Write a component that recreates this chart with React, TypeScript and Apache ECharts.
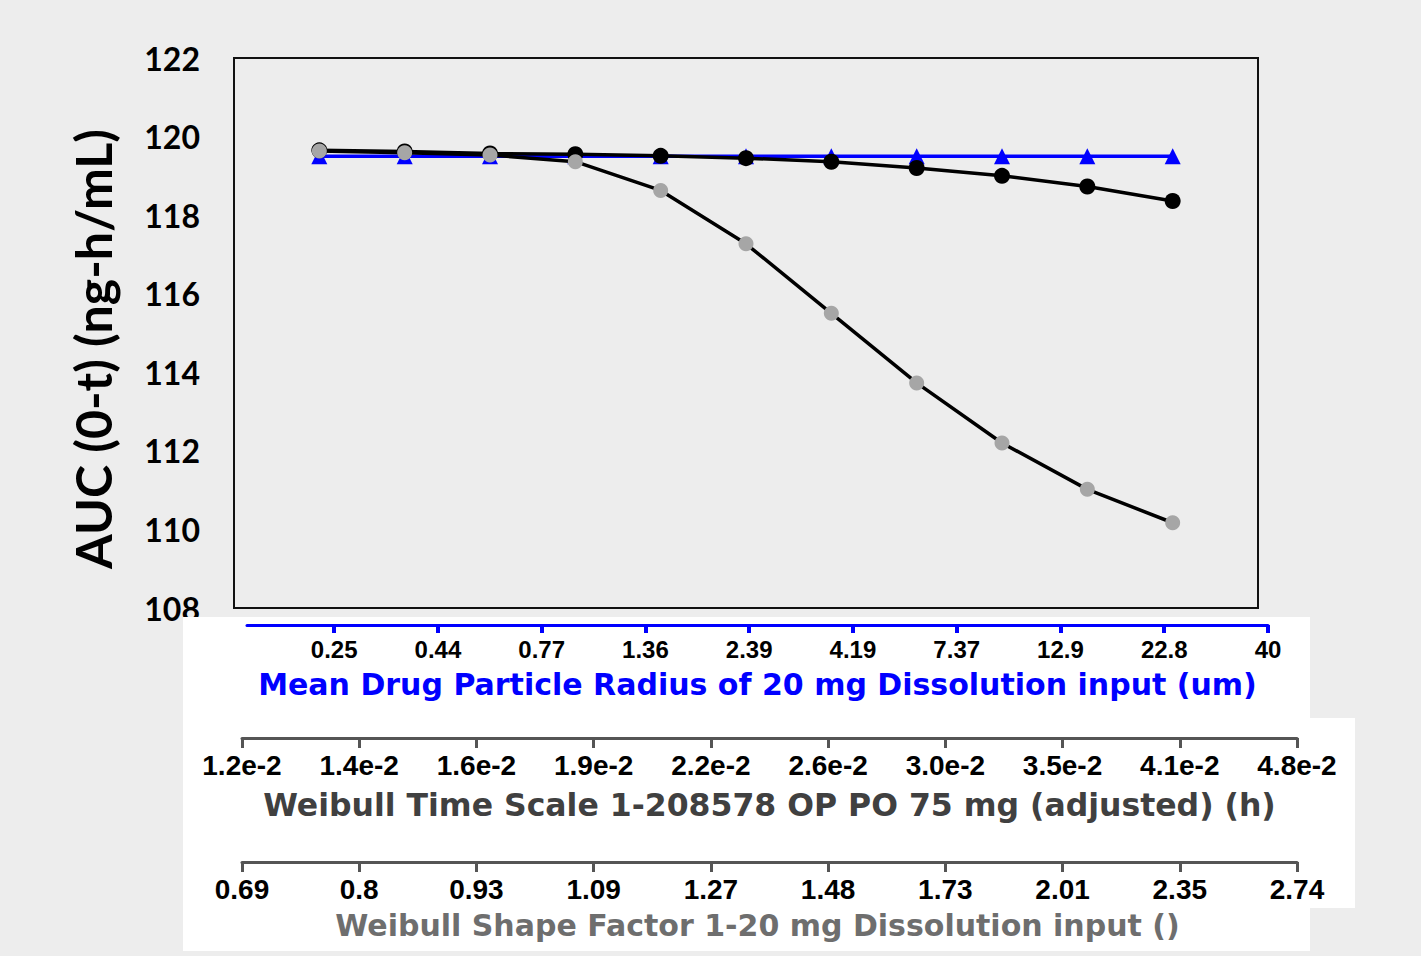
import React, { useEffect, useRef } from "react";
import * as echarts from "echarts";

// ---- data ----
const sampleIndex = [0, 1, 2, 3, 4, 5, 6, 7, 8, 9, 10];
const particleRadiusAUC = [119.5, 119.5, 119.5, 119.5, 119.5, 119.5, 119.5, 119.5, 119.5, 119.5, 119.5];
const timeScaleAUC = [119.65, 119.62, 119.57, 119.55, 119.51, 119.45, 119.36, 119.2, 119.0, 118.73, 118.36];
const shapeFactorAUC = [119.63, 119.59, 119.53, 119.36, 118.63, 117.27, 115.5, 113.73, 112.2, 111.02, 110.17];

const radiusTicks = ["0.25", "0.44", "0.77", "1.36", "2.39", "4.19", "7.37", "12.9", "22.8", "40"];
const timeScaleTicks = ["1.2e-2", "1.4e-2", "1.6e-2", "1.9e-2", "2.2e-2", "2.6e-2", "3.0e-2", "3.5e-2", "4.1e-2", "4.8e-2"];
const shapeFactorTicks = ["0.69", "0.8", "0.93", "1.09", "1.27", "1.48", "1.73", "2.01", "2.35", "2.74"];

const yTitle = "AUC (0-t) (ng-h/mL)";
const radiusTitle = "Mean Drug Particle Radius of 20 mg Dissolution input (um)";
const timeTitle = "Weibull Time Scale 1-208578 OP PO 75 mg (adjusted) (h)";
const shapeTitle = "Weibull Shape Factor 1-20 mg Dissolution input ()";

const pair = (vals: number[]) => vals.map((v, i) => [sampleIndex[i], v]);

export default function App() {
  const ref = useRef<HTMLDivElement>(null);
  useEffect(() => {
    if (!ref.current) return;
    const chart = echarts.init(ref.current, null, { renderer: "svg" });
    const tickFont = (size: number) => ({ fontFamily: "Liberation Sans", fontWeight: "bold" as const, fontSize: size, color: "#000" });
    const hiddenY = (gi: number) => ({ gridIndex: gi, type: "value" as const, show: false });
    chart.setOption({
      animation: false,
      backgroundColor: "#ededed",
      grid: [
        { left: 234, top: 58, width: 1024, height: 550, show: true, borderColor: "#111", borderWidth: 2, backgroundColor: "#ededed" },
        { left: 247, top: 590, width: 1021, height: 35 },
        { left: 242, top: 700, width: 1055, height: 38 },
        { left: 242, top: 830, width: 1055, height: 32 },
      ],
      xAxis: [
        { gridIndex: 0, type: "value", min: -1, max: 11, show: false },
        {
          gridIndex: 1, type: "value", min: -0.84, max: 9, position: "bottom", z: 10,
          axisLine: { lineStyle: { color: "#0000ff", width: 3 } },
          axisTick: { customValues: radiusTicks.map((_, i) => i), length: 8, lineStyle: { color: "#0000ff", width: 4 } },
          axisLabel: { customValues: radiusTicks.map((_, i) => i), formatter: (v: number) => radiusTicks[Math.round(v)], margin: 12, ...tickFont(24) },
          splitLine: { show: false },
          name: radiusTitle, nameLocation: "middle", nameGap: 44,
          nameTextStyle: { fontFamily: "DejaVu Sans", fontWeight: "bold", fontSize: 30, color: "#0000ff" },
        },
        {
          gridIndex: 2, type: "value", min: 0, max: 9, interval: 1, position: "bottom", z: 10,
          axisLine: { lineStyle: { color: "#555", width: 3 } },
          axisTick: { length: 10, lineStyle: { color: "#555", width: 3 } },
          axisLabel: { formatter: (v: number) => timeScaleTicks[Math.round(v)], margin: 13, hideOverlap: false, ...tickFont(28) },
          splitLine: { show: false },
          name: timeTitle, nameLocation: "middle", nameGap: 51,
          nameTextStyle: { fontFamily: "DejaVu Sans", fontWeight: "bold", fontSize: 31.5, color: "#404040" },
        },
        {
          gridIndex: 3, type: "value", min: 0, max: 9, interval: 1, position: "bottom", z: 10,
          axisLine: { lineStyle: { color: "#555", width: 3 } },
          axisTick: { length: 10, lineStyle: { color: "#555", width: 3 } },
          axisLabel: { formatter: (v: number) => shapeFactorTicks[Math.round(v)], margin: 13, hideOverlap: false, ...tickFont(28) },
          splitLine: { show: false },
          name: shapeTitle, nameLocation: "middle", nameGap: 48,
          nameTextStyle: { fontFamily: "DejaVu Sans", fontWeight: "bold", fontSize: 30, color: "#6e6e6e", padding: [0, 24, 0, 0] },
        },
      ],
      yAxis: [
        {
          gridIndex: 0, type: "value", min: 108, max: 122, interval: 2,
          axisLine: { show: false }, axisTick: { show: false }, splitLine: { show: false },
          axisLabel: { margin: 34, fontFamily: "Lato", fontWeight: "bold", fontSize: 32, color: "#000" },
        },
        hiddenY(1), hiddenY(2), hiddenY(3),
      ],
      graphic: [
        {
          type: "polygon", z: 1,
          shape: { points: [[183, 617], [1310, 617], [1310, 718], [1355, 718], [1355, 908], [1310, 908], [1310, 951], [183, 951]] },
          style: { fill: "#ffffff" },
        },
        {
          type: "text", x: 93, y: 349, rotation: Math.PI / 2, z: 5,
          style: { text: yTitle, fontFamily: "Lato", fontWeight: "bold", fontSize: 50, fill: "#000", align: "center", verticalAlign: "middle" },
        },
      ],
      series: [
        {
          name: "Mean Drug Particle Radius", type: "line", xAxisIndex: 0, yAxisIndex: 0, data: pair(particleRadiusAUC),
          symbol: "triangle", symbolSize: 16, itemStyle: { color: "#0000ff" }, lineStyle: { color: "#0000ff", width: 3.5 }, z: 2,
        },
        {
          name: "Weibull Time Scale", type: "line", xAxisIndex: 0, yAxisIndex: 0, data: pair(timeScaleAUC),
          symbol: "circle", symbolSize: 16, itemStyle: { color: "#000" }, lineStyle: { color: "#000", width: 3.5 }, z: 3,
        },
        {
          name: "Weibull Shape Factor", type: "line", xAxisIndex: 0, yAxisIndex: 0, data: pair(shapeFactorAUC),
          symbol: "circle", symbolSize: 15, itemStyle: { color: "#a6a6a6" }, lineStyle: { color: "#000", width: 3.5 }, z: 4,
        },
      ],
    });
    return () => chart.dispose();
  }, []);
  return (
    <div style={{ position: "absolute", left: 0, top: 0, width: 1421, height: 956, background: "#ededed" }}>
      <div ref={ref} style={{ width: 1421, height: 956 }} />
    </div>
  );
}
